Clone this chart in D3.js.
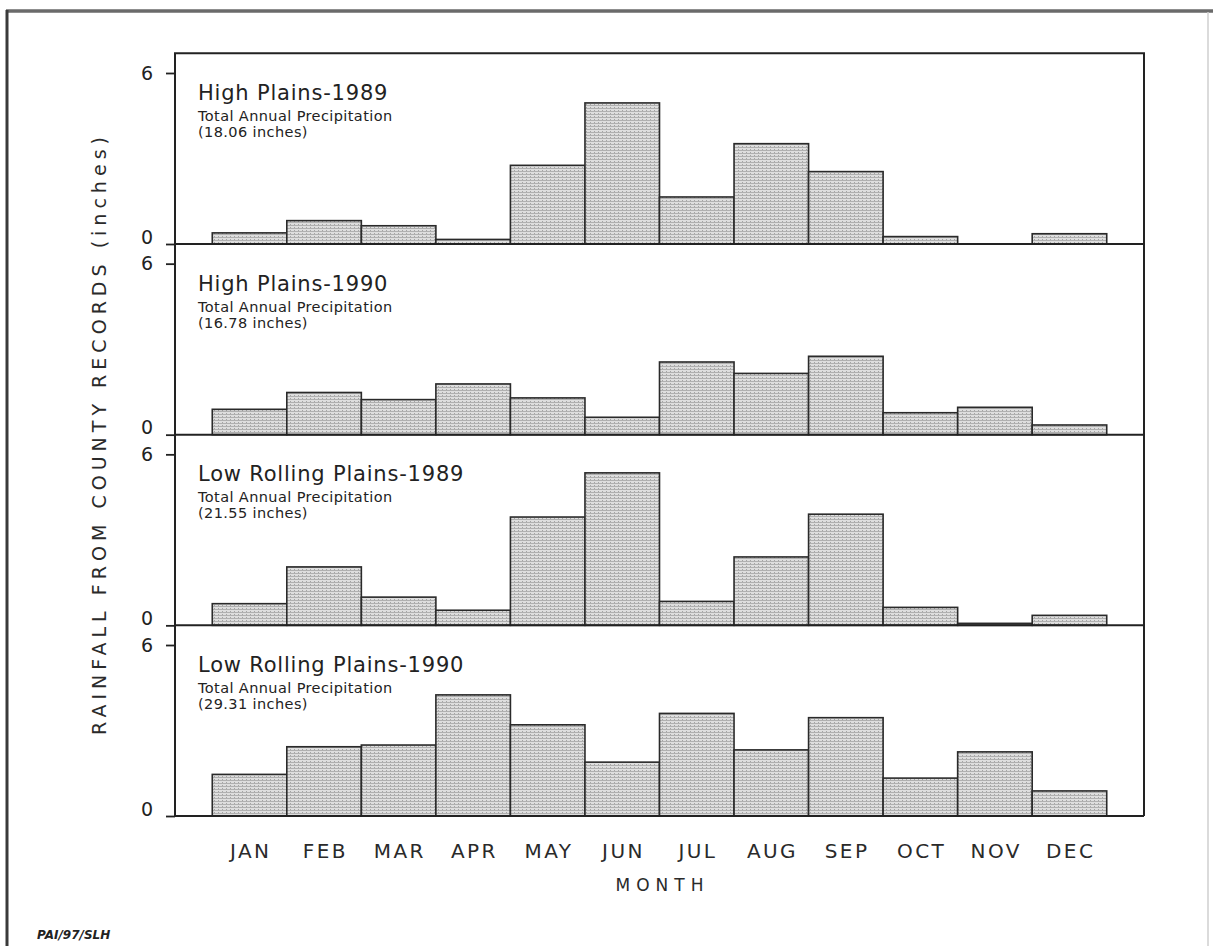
<!DOCTYPE html>
<html>
<head>
<meta charset="utf-8">
<script src="https://cdn.jsdelivr.net/npm/d3@7"></script>
<style>
    body { margin: 0; background: #fff; }
    svg { display: block; font-family: "DejaVu Sans", sans-serif; }
</style>
</head>
<body>
<div id="chart"></div>
<script>
// Monthly rainfall (inches)
const months = ["JAN", "FEB", "MAR", "APR", "MAY", "JUN", "JUL", "AUG", "SEP", "OCT", "NOV", "DEC"];
const highPlains1989 = [0.39, 0.82, 0.64, 0.16, 2.76, 4.95, 1.65, 3.52, 2.54, 0.26, 0, 0.36];
const highPlains1990 = [0.89, 1.48, 1.23, 1.78, 1.29, 0.61, 2.55, 2.15, 2.75, 0.77, 0.96, 0.34];
const lowRolling1989 = [0.76, 2.05, 0.99, 0.53, 3.8, 5.35, 0.84, 2.4, 3.9, 0.63, 0.07, 0.35];
const lowRolling1990 = [1.46, 2.43, 2.49, 4.25, 3.2, 1.89, 3.6, 2.32, 3.45, 1.33, 2.25, 0.88];

const panelTitles = ["High Plains-1989", "High Plains-1990", "Low Rolling Plains-1989", "Low Rolling Plains-1990"];
const panelTotals = ["(18.06 inches)", "(16.78 inches)", "(21.55 inches)", "(29.31 inches)"];
const panelSeries = [highPlains1989, highPlains1990, lowRolling1989, lowRolling1990];
const yTicks = [0, 6];

const width = 1213
const height = 946
const plotLeft = 175
const plotRight = 1144
const firstZero = 244
const panelStep = 190.67
const panelHeight = 171   // pixels between 0 and 6

const svg = d3.select("#chart").append("svg")
    .attr("width", width)
    .attr("height", height)

// stipple-like fill of the printed bars
const pattern = svg.append("defs").append("pattern")
    .attr("id", "stipple")
    .attr("patternUnits", "userSpaceOnUse")
    .attr("width", 4)
    .attr("height", 3)
pattern.append("rect").attr("width", 4).attr("height", 3).attr("fill", "#dedede")
pattern.append("rect").attr("width", 4).attr("height", 1).attr("fill", "#b0b0b0")
pattern.append("rect").attr("x", 2).attr("y", 2).attr("width", 1).attr("height", 1).attr("fill", "#a4a4a4")

// outer page border
svg.append("line").attr("x1", 6).attr("x2", width).attr("y1", 11).attr("y2", 11)
    .attr("stroke", "#6a6a6a").attr("stroke-width", 3.5)
svg.append("line").attr("x1", 7).attr("x2", 7).attr("y1", 10).attr("y2", height)
    .attr("stroke", "#3a3a3a").attr("stroke-width", 3)
svg.append("line").attr("x1", 1208).attr("x2", 1208).attr("y1", 12).attr("y2", height)
    .attr("stroke", "#cfcfcf").attr("stroke-width", 1.5)

let x = d3.scaleBand()
    .domain(months)
    .range([plotLeft, plotRight])
    .paddingInner(0)
    .paddingOuter(0.5)

const frameTop = firstZero - panelStep
const lastZero = firstZero + panelStep * 3

panelSeries.forEach(function(values, i) {
    const zero = firstZero + panelStep * i
    let y = d3.scaleLinear()
        .domain([0, 6])
        .range([zero, zero - panelHeight])

    const g = svg.append("g")

    g.selectAll("rect")
        .data(values)
        .join("rect")
            .attr("x", (d, j) => x(months[j]))
            .attr("y", (d) => y(d))
            .attr("width", x.bandwidth())
            .attr("height", (d) => y(0) - y(d))
            .attr("fill", "url(#stipple)")
            .attr("stroke", "#2a2a2a")
            .attr("stroke-width", 1.6)

    const axis = g.append("g")
        .attr("transform", "translate(" + plotLeft + ",0)")
        .call(d3.axisLeft(y).tickValues(yTicks).tickSize(9).tickPadding(13).tickFormat(d3.format("d")))
    axis.select(".domain").remove()
    axis.selectAll(".tick line").attr("stroke", "#222").attr("stroke-width", 1.8)
    // the "0" sits a little above its tick in the original
    axis.selectAll("text")
        .attr("font-size", 19)
        .attr("font-family", "DejaVu Sans, sans-serif")
        .attr("fill", "#222")
        .attr("y", (d) => d == 0 ? -7 : 0)

    // baseline of each panel also closes the frame
    g.append("line")
        .attr("x1", plotLeft).attr("x2", plotRight)
        .attr("y1", zero).attr("y2", zero)
        .attr("stroke", "#222").attr("stroke-width", 2)

    const top = zero - panelHeight
    const label = g.append("text").attr("fill", "#222")
    label.append("tspan").attr("x", 198).attr("y", top + 27)
        .attr("font-size", 21).style("letter-spacing", "0.8px").text(panelTitles[i])
    label.append("tspan").attr("x", 198).attr("y", top + 48)
        .attr("font-size", 14.5).style("letter-spacing", "0.4px").text("Total Annual Precipitation")
    label.append("tspan").attr("x", 198).attr("y", top + 64)
        .attr("font-size", 14.5).style("letter-spacing", "0.4px").text(panelTotals[i])
})

// frame: top and the two sides
svg.append("path")
    .attr("d", `M${plotLeft},${lastZero}V${frameTop}H${plotRight}V${lastZero}`)
    .attr("fill", "none")
    .attr("stroke", "#222")
    .attr("stroke-width", 2)

const xAxis = svg.append("g")
    .attr("transform", "translate(0," + lastZero + ")")
    .call(d3.axisBottom(x).tickSize(0).tickPadding(28))
xAxis.select(".domain").remove()
xAxis.selectAll("text")
    .attr("font-size", 20)
    .attr("font-family", "DejaVu Sans, sans-serif")
    .attr("fill", "#2a2a2a")
    .attr("dx", "1.2px")   // offset the trailing letter-spacing
    .style("letter-spacing", "2.4px")

svg.append("text")
    .attr("x", (plotLeft + plotRight) / 2 + 3)
    .attr("y", 891)
    .attr("text-anchor", "middle")
    .attr("font-size", 17)
    .attr("fill", "#2a2a2a")
    .style("letter-spacing", "6px")
    .text("MONTH")

svg.append("text")
    .attr("transform", "translate(106,436) rotate(-90)")
    .attr("text-anchor", "middle")
    .attr("font-size", 19)
    .attr("fill", "#2a2a2a")
    .attr("textLength", 598)
    .attr("lengthAdjust", "spacing")
    .text("RAINFALL FROM COUNTY RECORDS (inches)")

svg.append("text")
    .attr("x", 37)
    .attr("y", 939)
    .attr("font-size", 12)
    .attr("font-weight", "bold")
    .attr("font-style", "italic")
    .attr("fill", "#222")
    .text("PAI/97/SLH")
</script>
</body>
</html>
